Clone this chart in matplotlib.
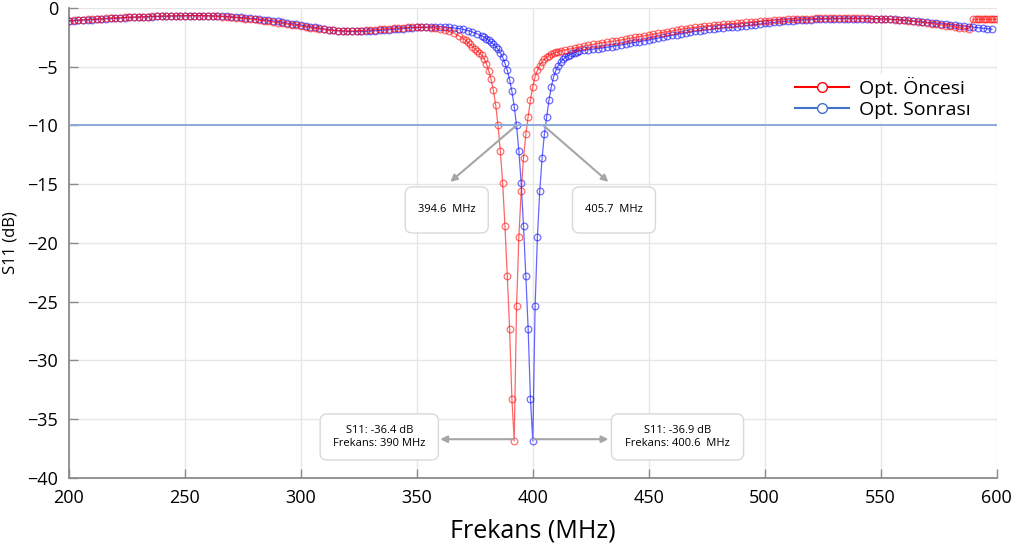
import numpy as np
import matplotlib
matplotlib.use("Agg")
import matplotlib.pyplot as plt
from matplotlib.lines import Line2D
from matplotlib.patches import FancyBboxPatch

plt.rcParams['font.family'] = ['Open Sans', 'DejaVu Sans']

# ---- data (frequency in MHz, S11 in dB) ----
# Opt. Oncesi (red)
red_f_a = np.arange(200, 372, 2)
red_s_a = [-1.08, -1.06, -1.03, -1.01, -0.98, -0.96, -0.93, -0.91, -0.88, -0.86,
           -0.84, -0.82, -0.81, -0.79, -0.77, -0.76, -0.74, -0.73, -0.71, -0.70,
           -0.69, -0.68, -0.67, -0.66, -0.66, -0.65, -0.65, -0.65, -0.65, -0.66,
           -0.67, -0.69, -0.71, -0.73, -0.76, -0.80, -0.83, -0.86, -0.90, -0.94,
           -0.98, -1.03, -1.08, -1.13, -1.19, -1.25, -1.31, -1.37, -1.43, -1.49,
           -1.55, -1.61, -1.67, -1.73, -1.78, -1.83, -1.87, -1.91, -1.93, -1.94,
           -1.95, -1.95, -1.94, -1.92, -1.89, -1.87, -1.84, -1.81, -1.78, -1.75,
           -1.72, -1.70, -1.68, -1.66, -1.65, -1.64, -1.65, -1.66, -1.68, -1.72,
           -1.78, -1.88, -2.00, -2.15, -2.35, -2.60]
red_f_b = np.arange(371, 412)
red_s_b = [-2.75, -2.92, -3.10, -3.28, -3.46, -3.64, -3.83, -4.03, -4.30, -4.75,
           -5.35, -6.07, -7.00, -8.26, -10.0, -12.15, -14.9, -18.55, -22.8, -27.3,
           -33.3, -36.85, -25.4, -19.45, -15.6, -12.8, -10.75, -9.25, -7.83, -6.7,
           -5.85, -5.3, -4.9, -4.6, -4.37, -4.2, -4.05, -3.95, -3.86, -3.78,
           -3.71]
red_f_c = np.arange(412, 590, 2)
red_s_c = [-3.65, -3.57, -3.49, -3.41, -3.33, -3.25, -3.17, -3.10, -3.03, -2.96,
           -2.90, -2.85, -2.79, -2.72, -2.65, -2.58, -2.51, -2.44, -2.37, -2.30,
           -2.23, -2.16, -2.09, -2.02, -1.95, -1.88, -1.81, -1.75, -1.69, -1.64,
           -1.59, -1.54, -1.50, -1.46, -1.42, -1.39, -1.36, -1.33, -1.30, -1.27,
           -1.23, -1.20, -1.16, -1.13, -1.10, -1.07, -1.04, -1.01, -0.99, -0.97,
           -0.95, -0.94, -0.92, -0.91, -0.90, -0.89, -0.88, -0.88, -0.87, -0.87,
           -0.87, -0.87, -0.87, -0.87, -0.88, -0.88, -0.89, -0.90, -0.91, -0.92,
           -0.94, -0.96, -0.99, -1.02, -1.05, -1.09, -1.13, -1.18, -1.23, -1.28,
           -1.33, -1.39, -1.44, -1.50, -1.55, -1.61, -1.67, -1.73, -1.80]
red_f_d = np.arange(590, 601)
red_s_d = [-0.96, -0.96, -0.96, -0.96, -0.96, -0.96, -0.96, -0.96, -0.96, -0.96,
           -0.96]

# Opt. Sonrasi (blue)
blue_f_a = np.arange(200, 380, 2)
blue_s_a = [-1.10, -1.08, -1.06, -1.03, -1.01, -0.99, -0.96, -0.94, -0.92, -0.89,
            -0.87, -0.85, -0.83, -0.81, -0.79, -0.78, -0.76, -0.75, -0.73, -0.72,
            -0.71, -0.70, -0.69, -0.68, -0.67, -0.66, -0.66, -0.65, -0.65, -0.66,
            -0.66, -0.67, -0.68, -0.70, -0.72, -0.75, -0.78, -0.81, -0.84, -0.87,
            -0.90, -0.95, -1.00, -1.05, -1.10, -1.15, -1.21, -1.27, -1.33, -1.39,
            -1.45, -1.52, -1.59, -1.66, -1.72, -1.78, -1.84, -1.89, -1.93, -1.97,
            -1.99, -2.00, -2.00, -1.99, -1.98, -1.96, -1.94, -1.91, -1.88, -1.85,
            -1.82, -1.78, -1.75, -1.71, -1.68, -1.66, -1.64, -1.62, -1.61, -1.60,
            -1.60, -1.62, -1.66, -1.70, -1.75, -1.82, -1.92, -2.05, -2.20, -2.38]
blue_f_b = np.arange(379, 420)
blue_s_b = [-2.48, -2.60, -2.74, -2.90, -3.08, -3.28, -3.52, -3.82, -4.20, -4.72,
            -5.3, -6.1, -7.1, -8.4, -10.0, -12.2, -14.9, -18.55, -22.8, -27.3,
            -33.3, -36.85, -25.4, -19.45, -15.6, -12.8, -10.75, -9.25, -7.83, -6.7,
            -5.85, -5.3, -4.9, -4.6, -4.37, -4.2, -4.07, -3.96, -3.87, -3.79,
            -3.72]
blue_f_c = np.arange(420, 600, 2)
blue_s_c = [-3.66, -3.60, -3.55, -3.50, -3.45, -3.40, -3.34, -3.28, -3.21, -3.14,
            -3.07, -3.00, -2.93, -2.86, -2.79, -2.72, -2.64, -2.56, -2.48, -2.40,
            -2.33, -2.26, -2.19, -2.12, -2.05, -1.99, -1.93, -1.88, -1.83, -1.78,
            -1.74, -1.70, -1.66, -1.63, -1.60, -1.56, -1.51, -1.46, -1.41, -1.36,
            -1.31, -1.27, -1.23, -1.19, -1.15, -1.12, -1.09, -1.06, -1.03, -1.01,
            -0.99, -0.97, -0.95, -0.94, -0.93, -0.92, -0.91, -0.90, -0.90, -0.90,
            -0.90, -0.90, -0.91, -0.91, -0.92, -0.93, -0.94, -0.96, -0.98, -1.00,
            -1.03, -1.06, -1.09, -1.13, -1.17, -1.21, -1.25, -1.29, -1.33, -1.37,
            -1.41, -1.45, -1.50, -1.54, -1.59, -1.63, -1.68, -1.72, -1.77, -1.81]

red_f = np.concatenate([red_f_a, red_f_b, red_f_c, red_f_d])
red_s = np.array(red_s_a + red_s_b + red_s_c + red_s_d)
blue_f = np.concatenate([blue_f_a, blue_f_b, blue_f_c])
blue_s = np.array(blue_s_a + blue_s_b + blue_s_c)

series_names = ["Opt. Öncesi", "Opt. Sonrası"]
ref_level = -10

# annotation texts: (text, arrow start, arrow end, box left, box right, box bottom, box top)
notes = [
    ("394.6  MHz", (392.9, -10.0), (364.4, -14.8), 345.0, 380.8, -19.15, -15.23),
    ("405.7  MHz", (404.6, -10.0), (432.6, -14.8), 417.1, 452.9, -19.15, -15.23),
    ("S11: -36.4 dB\nFrekans: 390 MHz", (391.9, -36.7), (360.1, -36.7), 308.3, 359.3, -38.47, -34.55),
    ("S11: -36.9 dB\nFrekans: 400.6  MHz", (399.8, -36.7), (432.6, -36.7), 433.9, 490.9, -38.47, -34.55),
]

fig = plt.figure(figsize=(10.19, 5.58), dpi=100)
ax = fig.add_axes([0.0677, 0.1434, 0.9103, 0.8423])

ax.plot(red_f, red_s, color='#ff0000', lw=0.9, alpha=0.6,
        marker='o', ms=4.8, mfc='none', mec='#ff1010', mew=0.9, zorder=4)
ax.plot(blue_f, blue_s, color='#0000ff', lw=0.9, alpha=0.6,
        marker='o', ms=4.8, mfc='none', mec='#1010ff', mew=0.9, zorder=3)
ax.axhline(ref_level, color='#8eaadb', lw=1.4, zorder=9)

ax.set_xlim(200, 600)
ax.set_ylim(-40, 0)
ax.set_xticks(np.arange(200, 601, 50))
ax.set_yticks(np.arange(-40, 1, 5))
ax.grid(True, color='#e6e6e6', lw=1)
ax.set_axisbelow(True)
for s in ['top', 'right']:
    ax.spines[s].set_visible(False)
for s in ['left', 'bottom']:
    ax.spines[s].set_color('#8c8c8c')
    ax.spines[s].set_linewidth(1.3)
ax.tick_params(direction='in', length=6.5, width=1, color='#8c8c8c',
               labelsize=13, pad=8)
ax.set_xlabel("Frekans (MHz)", fontsize=18, labelpad=8)
ax.set_ylabel("S11 (dB)", fontsize=12, labelpad=6)

aspect = (40 / 470) / (400 / 928)
for txt, p0, p1, x0, x1, y0, y1 in notes:
    ax.annotate("", xy=p1, xytext=p0,
                arrowprops=dict(arrowstyle='-|>', color='#a6a6a6', lw=1.5,
                                mutation_scale=10, shrinkA=0, shrinkB=0), zorder=5)
    box = FancyBboxPatch((x0, y0), x1 - x0, y1 - y0,
                         boxstyle='round,pad=0,rounding_size=3',
                         mutation_aspect=aspect, fc='white', ec='#d9d9d9',
                         lw=1, zorder=6)
    ax.add_patch(box)
    ax.text((x0 + x1) / 2, (y0 + y1) / 2, txt, ha='center', va='center',
            fontsize=8, linespacing=1.3, zorder=7)

handles = [
    Line2D([], [], color='#ff0000', lw=1.5, marker='o', ms=7, mfc='white', mec='#ff0000'),
    Line2D([], [], color='#4472c4', lw=1.5, marker='o', ms=7, mfc='white', mec='#4472c4'),
]
leg = ax.legend(handles, series_names, loc='upper left',
                bbox_to_anchor=(782 / 1019, 1 - 64 / 558), bbox_transform=fig.transFigure,
                fontsize=14, frameon=True, fancybox=False, handlelength=2.8,
                handletextpad=0.5, labelspacing=0.15, borderpad=0.15)
leg.get_frame().set_edgecolor('white')
leg.get_frame().set_facecolor('white')
leg.get_frame().set_alpha(1)
leg.set_zorder(8)

fig.savefig("out.png", dpi=100)
